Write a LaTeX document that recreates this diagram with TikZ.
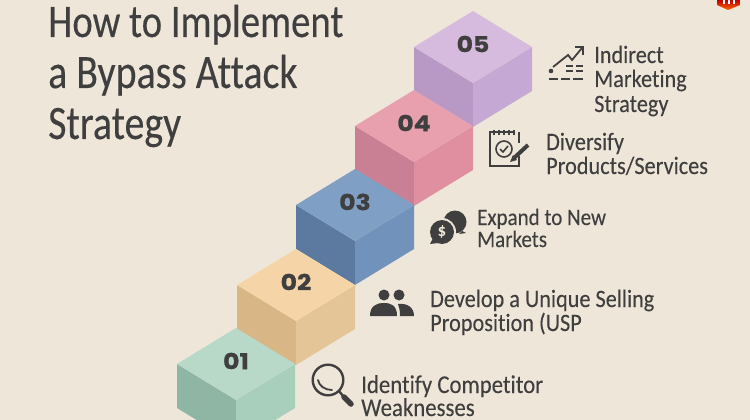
\documentclass[tikz,border=0pt]{standalone}
\usepackage{fontspec}
\setmainfont{Carlito}
\newfontfamily\titlefont[FakeStretch=0.83,FakeBold=0.25,Ligatures=NoCommon]{Carlito}
\newfontfamily\lblfont[FakeStretch=0.89,FakeBold=0.12,Ligatures=NoCommon]{Carlito}
\newfontfamily\numfont[FakeStretch=1.14,FakeBold=0.8]{Poppins Bold}
\definecolor{bgc}{HTML}{EFE6DA}
\definecolor{ink}{HTML}{3F3F3F}
\tikzset{
  title/.style={anchor=base west,text=ink,font=\fontsize{48}{51}\titlefont,inner sep=0pt},
  lbl/.style={anchor=base west,text=ink,font=\fontsize{25}{25}\lblfont,inner sep=0pt},
  lblsm/.style={lbl,font=\fontsize{23.6}{24}\lblfont},
  lblbg/.style={lbl,font=\fontsize{25.6}{26}\lblfont},
  num/.style={text=ink,font=\fontsize{22}{22}\numfont,inner sep=0pt},
  ic/.style={draw=ink,line width=1.6pt,fill=none}
}
\newcommand{\cube}[5]{%
  \begin{scope}[shift={(#1)}]
    \fill[#3] (0,0) -- (59,36) -- (59,80) -- (0,44) -- cycle;
    \fill[#4] (59,36) -- (118,0) -- (118,44) -- (59,80) -- cycle;
    \fill[#2] (0,0) -- (59,-36) -- (118,0) -- (59,36) -- cycle;
    \node[num] (n#5) at (59,-3) {#5};
  \end{scope}}
\begin{document}
\begin{tikzpicture}[x=1pt,y=-1pt]
\fill[bgc] (0,0) rectangle (750,420);
\useasboundingbox (0,0) rectangle (750,420);
\clip (0,0) rectangle (750,420);
\definecolor{a1}{HTML}{B8D9C8}\definecolor{a2}{HTML}{8FB5A4}\definecolor{a3}{HTML}{A8CFBC}
\definecolor{b1}{HTML}{F5D5A8}\definecolor{b2}{HTML}{D8B686}\definecolor{b3}{HTML}{E3C598}
\definecolor{c1}{HTML}{7F9FC4}\definecolor{c2}{HTML}{5C7AA0}\definecolor{c3}{HTML}{7092BB}
\definecolor{d1}{HTML}{E8A0AE}\definecolor{d2}{HTML}{C98094}\definecolor{d3}{HTML}{DF8FA0}
\definecolor{e1}{HTML}{D6BBDF}\definecolor{e2}{HTML}{B898C4}\definecolor{e3}{HTML}{C6A8D4}
\cube{414,47}{e1}{e2}{e3}{05}
\cube{355,126}{d1}{d2}{d3}{04}
\cube{296,205}{c1}{c2}{c3}{03}
\cube{237,285}{b1}{b2}{b3}{02}
\cube{177,364}{a1}{a2}{a3}{01}
% title
\node[title,font=\fontsize{46.7}{51}\titlefont] (t1) at (48,37) {How to Implement};
\node[title] (t2) at (48,88) {a Bypass Attack};
\node[title] (t3) at (48,139) {Strategy};
% labels
\node[lblbg] (l1a) at (361,393) {Identify Competitor};
\node[lblbg] (l1b) at (361,416) {Weaknesses};
\node[lbl] (l2a) at (430,307) {Develop a Unique Selling};
\node[lbl] (l2b) at (430,331) {Proposition (USP};
\node[lblsm] (l3a) at (477,225) {Expand to New};
\node[lblsm] (l3b) at (477,247) {Markets};
\node[lbl] (l4a) at (546,150) {Diversify};
\node[lbl] (l4b) at (546,174) {Products/Services};
\node[lbl] (l5a) at (594,63) {Indirect};
\node[lbl] (l5b) at (594,87) {Marketing};
\node[lbl] (l5c) at (594,112) {Strategy};
% magnifier
\draw[ink,line width=2.4pt] (328,380) circle (15.3);
\draw[ink,line width=1.8pt,line cap=round] (318,380) .. controls (319,386) and (325,390) .. (332,390);
\draw[ink,line width=2.4pt] (339,391) -- (343,396);
\draw[ink,line width=5.5pt,line cap=round] (344,397) -- (351,404);
% people
\fill[ink] (384,295) circle (5.5) (399,295) circle (5.5);
\fill[ink] (370,316) .. controls (370,306) and (376,303) .. (384,303) .. controls (392,303) and (397,306) .. (397,316) -- cycle;
\fill[ink] (400,316) .. controls (400,310) and (399,307) .. (398,304) .. controls (407,303) and (414,307) .. (414,316) -- cycle;
% chat bubbles
\fill[ink] (455,222) circle (11.5);
\fill[ink] (462,231) -- (466,233) -- (459,234) -- cycle;
\fill[bgc] (442,232) circle (14);
\fill[ink] (442,232) circle (12);
\fill[ink] (433,238) -- (430,244) -- (438,243) -- cycle;
\node[text=bgc,font=\fontsize{17}{17}\selectfont\bfseries,inner sep=0pt] (dollar) at (442,232) {\$};
% notepad
\draw[ic] (515,132) -- (490,132) -- (490,166) -- (519,166) -- (519,156);
\draw[ic] (519,132) -- (519,143);
\foreach \x in {494,499,504,509,514}{\draw[ink,line width=1.4pt] (\x,130) -- (\x,135);}
\draw[ic] (504,149) circle (8);
\draw[ink,line width=1.6pt] (500,149) -- (503,152) -- (508,146);
\draw[ink,line width=4pt] (514,158) -- (528,145);
\fill[ink] (510,162) -- (513,155) -- (517,160) -- cycle;
% chart
\draw[ink,line width=1.8pt] (553,67) -- (568,55) -- (572,60) -- (582,48);
\draw[ink,line width=1.8pt] (575,47) -- (583,47) -- (583,55);
\fill[ink] (551,71) circle (2.3);
\foreach \y in {66,71}{\draw[ink,line width=2pt] (566,\y) -- (573,\y) (576,\y) -- (583,\y);}
\draw[ink,line width=2.4pt] (549,79) -- (558,79) (561,79) -- (570,79) (573,79) -- (583,79);
% logo
\shade[top color=red!75!black,bottom color=orange!80!red] (717,0) -- (740,0) -- (740,5) -- (728,10) -- (717,5) -- cycle;
\foreach \x in {723,728,733}{\fill[white] (\x,0) rectangle ++(2.2,4);}
\end{tikzpicture}
\end{document}
